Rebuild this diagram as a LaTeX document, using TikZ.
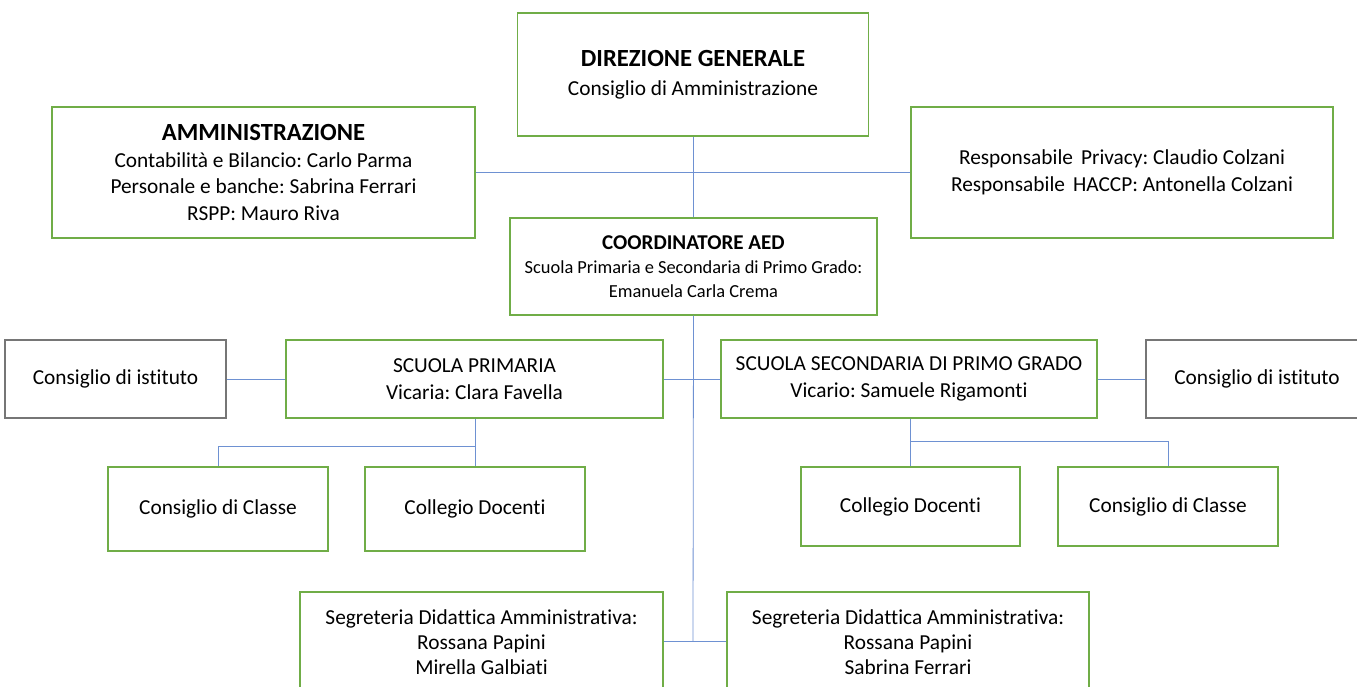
\documentclass[tikz,border=0pt]{standalone}
\usepackage{fontspec}
\setmainfont{Carlito}[Ligatures=NoCommon]
\definecolor{boxgreen}{RGB}{112,173,71}
\definecolor{boxgray}{RGB}{118,118,118}
\definecolor{linkblue}{RGB}{110,145,210}
\tikzset{
  greenbox/.style={draw=boxgreen, line width=1.1pt, fill=white, align=center, inner sep=0pt, font=\fontsize{16}{20}\selectfont\frenchspacing},
  graybox/.style={greenbox, draw=boxgray},
  link/.style={draw=linkblue, line width=0.6pt},
}
\newcommand{\bigtitle}[1]{{\fontsize{18.5}{23}\selectfont\bfseries #1}}
\begin{document}
\begin{tikzpicture}[x=0.75pt,y=0.75pt,yscale=-1,xscale=1]
\useasboundingbox (0,0) rectangle (1357,686);

%Top level
\node (dir) [greenbox, minimum width=351*0.75pt, minimum height=123*0.75pt] at (693,74.5)
  {\bigtitle{DIREZIONE GENERALE}\\[2pt] Consiglio di Amministrazione};
\node (amm) [greenbox, minimum width=423*0.75pt, minimum height=131*0.75pt] at (263.5,172.5)
  {\bigtitle{AMMINISTRAZIONE}\\ Contabilità e Bilancio: Carlo Parma\\ Personale e banche: Sabrina Ferrari\\ RSPP: Mauro Riva};
\node (priv) [greenbox, minimum width=422*0.75pt, minimum height=131*0.75pt] at (1122,172.5)
  {Responsabile\hspace{0.15em} Privacy: Claudio Colzani\\ Responsabile\hspace{0.15em} HACCP: Antonella Colzani};
\node (coord) [greenbox, minimum width=367*0.75pt, minimum height=97*0.75pt, font=\fontsize{13.8}{18}\selectfont\frenchspacing] at (693.5,266.5)
  {{\fontsize{15.8}{19}\selectfont\bfseries COORDINATORE AED}\\ Scuola Primaria e Secondaria di Primo Grado:\\ Emanuela Carla Crema};

%Schools
\node (istL) [graybox, minimum width=221*0.75pt, minimum height=78*0.75pt] at (115.5,379) {Consiglio di istituto};
\node (prim) [greenbox, minimum width=377*0.75pt, minimum height=78*0.75pt] at (474.5,379)
  {SCUOLA PRIMARIA\\ Vicaria: Clara Favella};
\node (sec) [greenbox, minimum width=376*0.75pt, minimum height=78*0.75pt] at (909,379)
  {SCUOLA SECONDARIA DI PRIMO GRADO\\ Vicario: Samuele Rigamonti};
\node (istR) [graybox, minimum width=222*0.75pt, minimum height=78*0.75pt] at (1257,379) {Consiglio di istituto};

%Councils
\node (clsL) [greenbox, minimum width=220*0.75pt, minimum height=84*0.75pt] at (218,509) {Consiglio di Classe};
\node (colL) [greenbox, minimum width=220*0.75pt, minimum height=84*0.75pt] at (475,509) {Collegio Docenti};
\node (colR) [greenbox, minimum width=219*0.75pt, minimum height=79*0.75pt] at (910.5,506.5) {Collegio Docenti};
\node (clsR) [greenbox, minimum width=220*0.75pt, minimum height=79*0.75pt] at (1168,506.5) {Consiglio di Classe};

%Offices
\node (segL) [greenbox, minimum width=363*0.75pt, minimum height=100*0.75pt, font=\fontsize{16}{18.5}\selectfont\frenchspacing] at (481.5,642)
  {Segreteria Didattica Amministrativa:\\ Rossana Papini\\ Mirella Galbiati};
\node (segR) [greenbox, minimum width=362*0.75pt, minimum height=100*0.75pt, font=\fontsize{16}{18.5}\selectfont\frenchspacing] at (908,642)
  {Segreteria Didattica Amministrativa:\\ Rossana Papini\\ Sabrina Ferrari};

%Connectors
\coordinate (hub) at (693,641);
\draw [link] (coord.north |- dir.south) -- (coord.north);
\draw [link] (amm.east) -- (priv.west);
\draw [link] (coord.south) -- (hub);
\draw [link] (segL.east |- hub) -- (segR.west |- hub);
\draw [link] (istL) -- (prim);
\draw [link] (prim) -- (sec);
\draw [link] (sec) -- (istR);
\draw [link] (colL.north |- prim.south) -- (colL.north);
\draw [link] (colL.north |- 0,446) -| (clsL.north);
\draw [link] (colR.north |- sec.south) -- (colR.north);
\draw [link] (colR.north |- 0,441) -| (clsR.north);

\end{tikzpicture}
\end{document}
